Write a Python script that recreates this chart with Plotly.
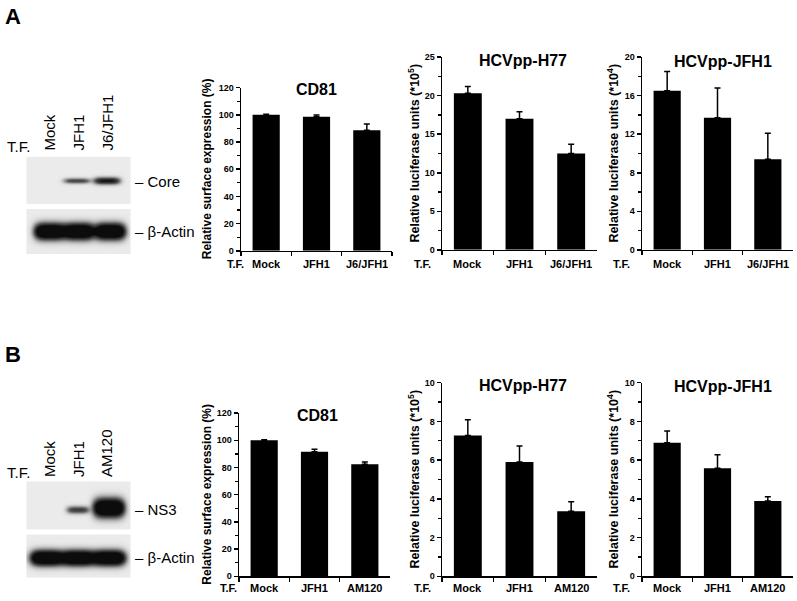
import numpy as np
import plotly.graph_objects as go

W, H = 797, 601
FONT = "Liberation Sans, Arial, Helvetica, sans-serif"

# ---------------- data ----------------
cats_A = ["Mock", "JFH1", "J6/JFH1"]
cats_B = ["Mock", "JFH1", "AM120"]

cd81_A = [100.0, 98.5, 88.6]
cd81_A_err = [0.5, 1.3, 4.6]
h77_A = [20.3, 17.0, 12.5]
h77_A_err = [0.9, 0.9, 1.2]
jfh1_A = [16.5, 13.7, 9.4]
jfh1_A_err = [2.0, 3.1, 2.7]

cd81_B = [100.0, 91.5, 82.3]
cd81_B_err = [0.4, 1.9, 1.7]
h77_B = [7.27, 5.9, 3.36]
h77_B_err = [0.81, 0.83, 0.49]
jfh1_B = [6.89, 5.58, 3.89]
jfh1_B_err = [0.61, 0.70, 0.22]

# western blot band intensities (relative)
core_A_int = [0.0, 0.62, 0.95]
actin_A_int = [1.8, 1.8, 1.8]
ns3_B_int = [0.0, 0.7, 1.9]
actin_B_int = [1.8, 1.8, 1.8]

fig = go.Figure()

# ---------------- bar panels ----------------
panels = [
    dict(cats=cats_A, v=cd81_A, e=cd81_A_err, ymax=120, dt=20, mn=10, title="CD81",
         ylab="Relative surface expression (%)", ls=12, xd=(241, 392), yd=(84, 250),
         tx=316, ty=86, lx=207, tfx=235, row=263),
    dict(cats=cats_A, v=h77_A, e=h77_A_err, ymax=25, dt=5, mn=2.5, title="HCVpp-H77",
         ylab="Relative luciferase units (*10<sup>5</sup>)", ls=12.5, xd=(442, 597), yd=(53, 249),
         tx=523, ty=56, lx=414, tfx=422, row=263),
    dict(cats=cats_A, v=jfh1_A, e=jfh1_A_err, ymax=20, dt=4, mn=2, title="HCVpp-JFH1",
         ylab="Relative luciferase units (*10<sup>4</sup>)", ls=12.5, xd=(642, 793), yd=(53, 249),
         tx=723, ty=57, lx=613, tfx=621, row=263),
    dict(cats=cats_B, v=cd81_B, e=cd81_B_err, ymax=120, dt=20, mn=10, title="CD81",
         ylab="Relative surface expression (%)", ls=12, xd=(239, 390), yd=(415, 581),
         tx=317, ty=417, lx=207, tfx=228, row=593),
    dict(cats=cats_B, v=h77_B, e=h77_B_err, ymax=10, dt=2, mn=1, title="HCVpp-H77",
         ylab="Relative luciferase units (*10<sup>5</sup>)", ls=12.5, xd=(442, 597), yd=(384, 581),
         tx=523, ty=387, lx=414, tfx=422, row=593),
    dict(cats=cats_B, v=jfh1_B, e=jfh1_B_err, ymax=10, dt=2, mn=1, title="HCVpp-JFH1",
         ylab="Relative luciferase units (*10<sup>4</sup>)", ls=12.5, xd=(642, 793), yd=(384, 581),
         tx=723, ty=388, lx=613, tfx=621, row=593),
]

annotations = []
layout_axes = {}
for i, p in enumerate(panels, 1):
    fig.add_trace(go.Bar(
        x=p["cats"], y=p["v"], width=0.54,
        marker=dict(color="black", line=dict(width=0)),
        error_y=dict(type="data", symmetric=False, array=p["e"], arrayminus=[0, 0, 0],
                     color="black", thickness=1.5, width=3),
        xaxis=f"x{i}", yaxis=f"y{i}", showlegend=False, hoverinfo="skip",
    ))
    sfx = "" if i == 1 else str(i)
    x0, x1 = p["xd"]
    y0, y1 = p["yd"]
    layout_axes[f"xaxis{sfx}"] = dict(
        domain=[x0 / W, x1 / W], anchor=f"y{i}", type="category", range=[-0.5, 2.5],
        showline=True, linecolor="black", linewidth=1.5, ticks="outside",
        tickson="boundaries", ticklen=4, tickwidth=1.5, tickcolor="black",
        showticklabels=False, showgrid=False, zeroline=False, fixedrange=True,
    )
    layout_axes[f"yaxis{sfx}"] = dict(
        domain=[1 - y1 / H, 1 - y0 / H], anchor=f"x{i}", range=[0, p["ymax"]],
        tick0=0, dtick=p["dt"], showline=True, linecolor="black", linewidth=1.5,
        ticks="outside", ticklen=4, tickwidth=1.5, tickcolor="black",
        minor=dict(dtick=p["mn"], ticks="outside", ticklen=3, tickwidth=1.2, tickcolor="black"),
        tickfont=dict(family=FONT, size=9, color="black", weight="bold"),
        showgrid=False, zeroline=False, fixedrange=True,
    )
    annotations.append(dict(text=f"<b>{p['title']}</b>", x=p["tx"], y=p["ty"], xref="x7", yref="y7",
                            showarrow=False, font=dict(family=FONT, size=16, color="black"),
                            xanchor="center", yanchor="middle"))
    annotations.append(dict(text=f"<b>{p['ylab']}</b>", x=p["lx"], y=(y0 + y1) / 2, xref="x7", yref="y7",
                            showarrow=False, textangle=-90,
                            font=dict(family=FONT, size=p["ls"], color="black"),
                            xanchor="center", yanchor="middle"))
    annotations.append(dict(text="<b>T.F.</b>", x=p["tfx"], y=p["row"], xref="x7", yref="y7",
                            showarrow=False, font=dict(family=FONT, size=11, color="black"),
                            xanchor="center", yanchor="middle"))
    for c in p["cats"]:
        annotations.append(dict(text=f"<b>{c}</b>", x=c, y=p["row"], xref=f"x{i}", yref="y7",
                                showarrow=False, font=dict(family=FONT, size=11, color="black"),
                                xanchor="center", yanchor="middle"))


# ---------------- western blots (heatmap images) ----------------
def strip(x0, x1, y0, y1, bands):
    xs = np.arange(x0, x1 + 1, 1.0)
    ys = np.arange(y0, y1 + 1, 1.0)
    X, Y = np.meshgrid(xs, ys)
    Z = np.zeros_like(X)
    for xc, inten, yc, hh, hw in bands:
        Z += inten * np.exp(-np.abs((X - xc) / hw) ** 4) * np.exp(-((Y - yc) / hh) ** 2)
    return xs, ys, np.clip(Z, 0, 1)

lanes_A = [47, 76, 106]
lanes_B = [46, 77, 108]
strips = [
    strip(27, 130, 155, 202, [(lanes_A[k], core_A_int[k], 178.5, [2.5, 2.6, 3.4][k], 13) for k in range(3)]),
    strip(27, 130, 208, 253, [(lanes_A[k] + [2, 2, 3][k], actin_A_int[k], 230, 7.5, 15) for k in range(3)]),
    strip(27, 130, 485, 533, [(lanes_B[k], ns3_B_int[k], [513, 513, 511][k],
                               [3.5, 3.5, 8.5][k], [12, 11, 15][k]) for k in range(3)]),
    strip(27, 130, 539, 582, [(lanes_B[k], actin_B_int[k], 562, 7.0, 16) for k in range(3)]),
]
for xs, ys, Z in strips:
    fig.add_trace(go.Heatmap(x=xs, y=ys, z=Z, zmin=0, zmax=1, zsmooth="best",
                             colorscale=[[0, "#ebebeb"], [0.5, "#5a5a5a"], [1, "#0c0c0c"]],
                             showscale=False, hoverinfo="skip", xaxis="x7", yaxis="y7"))

def txt(t, x, y, size=15, xa="left", ya="middle", angle=0, bold=False):
    if bold:
        t = f"<b>{t}</b>"
    annotations.append(dict(text=t, x=x, y=y, xref="x7", yref="y7", showarrow=False,
                            textangle=angle, xanchor=xa, yanchor=ya,
                            font=dict(family=FONT, size=size, color="black")))

txt("A", 3, 12, size=22, bold=True)
txt("B", 3, 355, size=22, bold=True)

# blot A labels
txt("T.F.", 18, 144, xa="center")
for lab, lx in zip(cats_A, [49, 78, 107]):
    txt(lab, lx, 150, xa="center", ya="bottom", angle=-90)
txt("– Core", 133, 179)
txt("– β-Actin", 133, 230)

# blot B labels
txt("T.F.", 18, 475, xa="center")
for lab, lx in zip(cats_B, [50, 79, 107]):
    txt(lab, lx, 482, xa="center", ya="bottom", angle=-90)
txt("– NS3", 133, 513)
txt("– β-Actin", 133, 562)

layout_axes["xaxis7"] = dict(domain=[0, 1], range=[0, W], visible=False, anchor="y7", fixedrange=True)
layout_axes["yaxis7"] = dict(domain=[0, 1], range=[H, 0], visible=False, anchor="x7", fixedrange=True)

fig.update_layout(
    width=W, height=H, margin=dict(l=0, r=0, t=0, b=0),
    paper_bgcolor="white", plot_bgcolor="rgba(0,0,0,0)",
    showlegend=False, annotations=annotations, bargap=0.46,
    **layout_axes,
)

fig.write_html("out.html", config={"displayModeBar": False, "staticPlot": True},
               post_script="document.body.style.margin='0px';document.body.style.overflow='hidden';")
